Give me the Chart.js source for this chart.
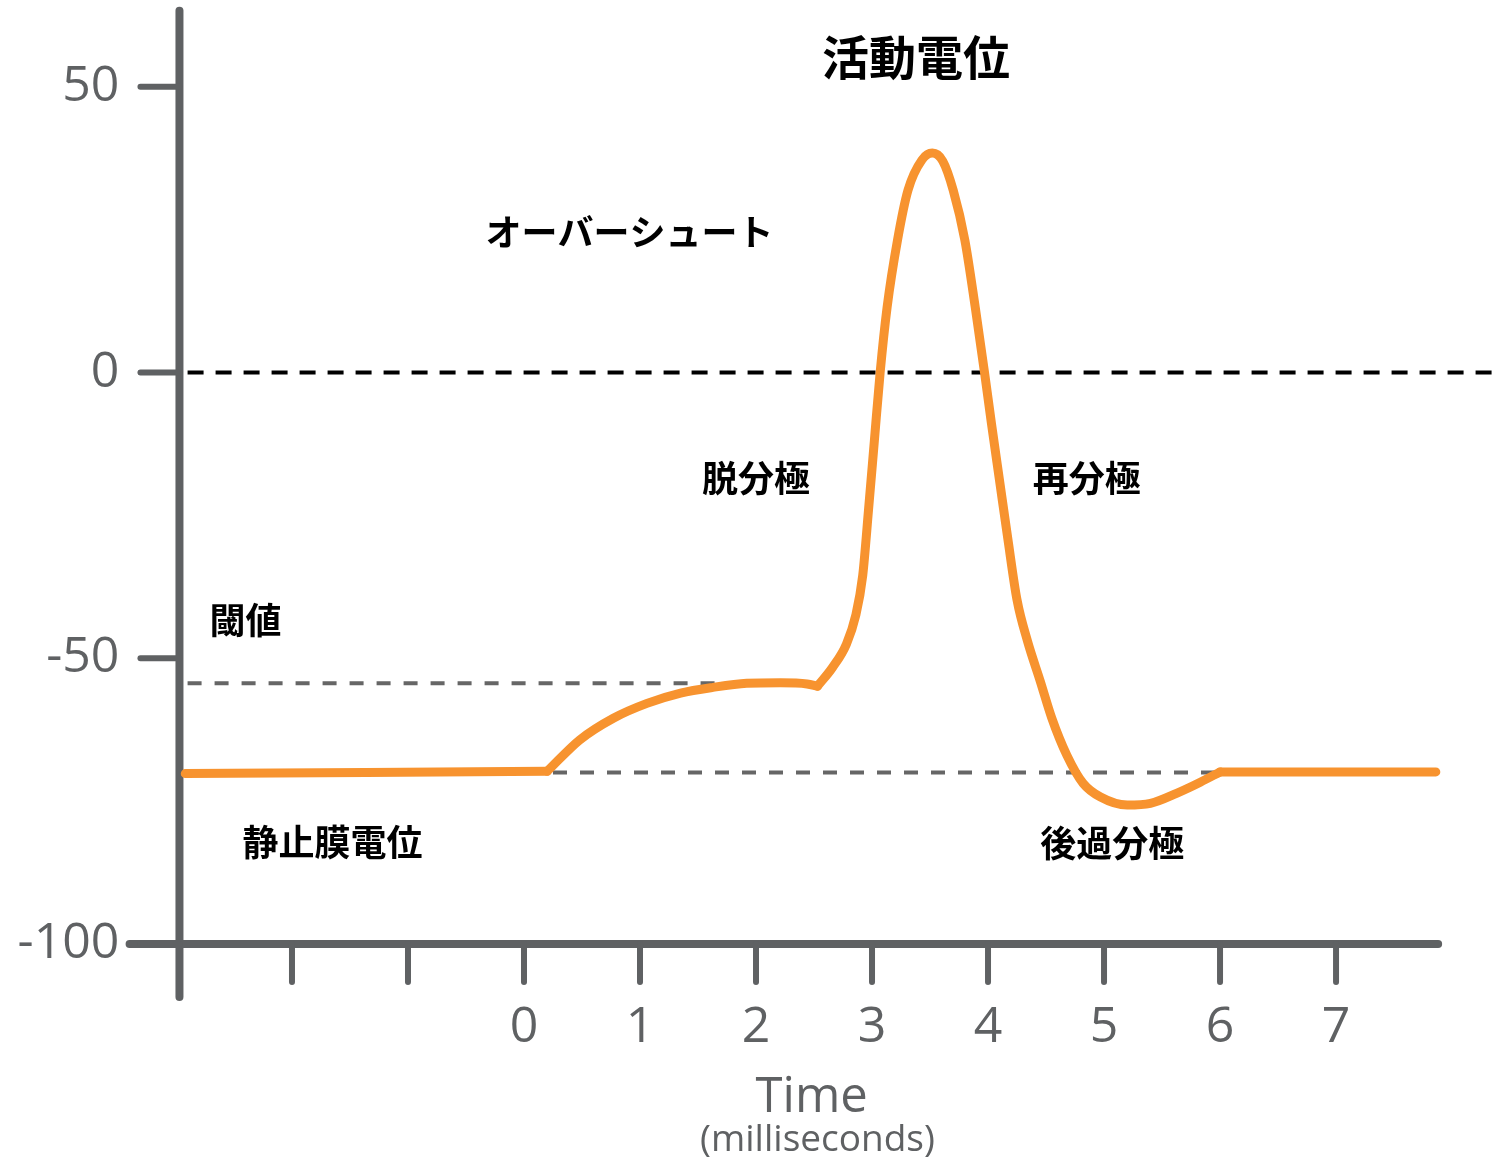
<!DOCTYPE html>
<html>
<head>
<meta charset="utf-8">
<script src="https://cdn.jsdelivr.net/npm/chart.js@4.4.0/dist/chart.umd.min.js"></script>
<style>
  html, body { margin: 0; padding: 0; background: #fff; }
  #wrap { width: 1501px; height: 1165px; position: relative; }
</style>
</head>
<body>
<div id="wrap"><canvas id="chart"></canvas></div>
<script>
// action potential trace (ms, mV), split at the kinks
const restTime = [-2.92, 0.2];
const restMv = [-70.2, -69.8];
const riseTime = [0.2, 0.48, 0.77, 1.06, 1.35, 1.63, 1.92, 2.21, 2.44, 2.53];
const riseMv = [-69.8, -64.3, -60.5, -57.9, -56.1, -55.1, -54.4, -54.3, -54.5, -54.9];
const spikeTime = [2.53, 2.66, 2.78, 2.86, 2.92, 2.97, 3.02, 3.07, 3.13, 3.22, 3.31, 3.43, 3.52,
  3.61, 3.70, 3.80, 3.89, 3.97, 4.03, 4.10, 4.17, 4.25, 4.34, 4.45, 4.55, 4.68, 4.82, 4.97,
  5.20, 5.40, 5.63, 5.83, 6.0];
const spikeMv = [-54.9, -51.6, -47.5, -42.5, -35.5, -24.0, -12.0, 0, 11.4, 23.2, 31.9, 37.2, 38.4,
  37.0, 31.9, 23.2, 11.4, 0, -9.0, -19.0, -29.0, -39.8, -47.0, -54.0, -60.5, -67.0, -71.9, -74.3,
  -75.7, -75.4, -73.6, -71.7, -69.9];
const afterTime = [6.0, 7.86];
const afterMv = [-69.9, -69.9];

// reference lines
const zeroLineMs = [-2.9, 8.35];
const thresholdMv = -54.4;
const thresholdMs = [-2.9, 1.68];
const restingMv = -70;
const restingMs = [0.25, 6.0];

// axes
const xTicks = [-2, -1, 0, 1, 2, 3, 4, 5, 6, 7];
const xTickLabels = ['', '', '0', '1', '2', '3', '4', '5', '6', '7'];
const yTicks = [50, 0, -50, -100];
const yTickLabels = ['50', '0', '-50', '-100'];

// labels on the chart
const notes = [
  {text: '活動電位', x: 3.38, y: 55.2, size: 47},
  {text: 'オーバーシュート', x: 0.91, y: 24.6, size: 36},
  {text: '脱分極', x: 2.0, y: -18.5, size: 36},
  {text: '再分極', x: 4.85, y: -18.5, size: 36},
  {text: '閾値', x: -2.4, y: -43.3, size: 36},
  {text: '静止膜電位', x: -1.65, y: -82.2, size: 36},
  {text: '後過分極', x: 5.07, y: -82.4, size: 36},
];

const AXIS = '#5f6163';
const ORANGE = '#f7932f';

const axesPlugin = {
  id: 'crossAxes',
  beforeDatasetsDraw(chart) {
    const ctx = chart.ctx;
    const xs = chart.scales.x, ys = chart.scales.y;
    const ax = xs.getPixelForValue(-2.97);
    const ay = ys.getPixelForValue(-100);
    ctx.save();
    ctx.strokeStyle = AXIS;
    ctx.lineCap = 'round';
    // y axis
    ctx.lineWidth = 8;
    ctx.beginPath();
    ctx.moveTo(ax, ys.getPixelForValue(63.3));
    ctx.lineTo(ax, ys.getPixelForValue(-109.3));
    ctx.stroke();
    // x axis
    ctx.beginPath();
    ctx.moveTo(xs.getPixelForValue(-3.4), ay);
    ctx.lineTo(xs.getPixelForValue(7.88), ay);
    ctx.stroke();
    // tick marks
    ctx.lineWidth = 6;
    yTicks.forEach(v => {
      const py = ys.getPixelForValue(v);
      ctx.beginPath();
      ctx.moveTo(ax - 39, py);
      ctx.lineTo(ax, py);
      ctx.stroke();
    });
    xTicks.forEach(v => {
      const px = xs.getPixelForValue(v);
      ctx.beginPath();
      ctx.moveTo(px, ay);
      ctx.lineTo(px, ay + 38);
      ctx.stroke();
    });
    // tick labels
    ctx.fillStyle = AXIS;
    ctx.font = '50px "Open Sans", sans-serif';
    ctx.textAlign = 'right';
    ctx.textBaseline = 'middle';
    yTicks.forEach((v, i) => {
      ctx.fillText(yTickLabels[i], ax - 60, ys.getPixelForValue(v));
    });
    ctx.textAlign = 'center';
    xTicks.forEach((v, i) => {
      if (xTickLabels[i]) ctx.fillText(xTickLabels[i], xs.getPixelForValue(v), ay + 84);
    });
    // axis title
    ctx.font = '49px "Open Sans", sans-serif';
    ctx.fillText('Time', xs.getPixelForValue(2.48), ay + 154);
    ctx.font = '37px "Open Sans", sans-serif';
    ctx.fillText('(milliseconds)', xs.getPixelForValue(2.53), ay + 197);
    ctx.restore();
  },
  afterDraw(chart) {
    const ctx = chart.ctx;
    const xs = chart.scales.x, ys = chart.scales.y;
    ctx.save();
    ctx.fillStyle = '#000';
    ctx.textAlign = 'center';
    ctx.textBaseline = 'middle';
    notes.forEach(n => {
      ctx.font = 'bold ' + n.size + 'px "Noto Sans CJK JP", sans-serif';
      ctx.fillText(n.text, xs.getPixelForValue(n.x), ys.getPixelForValue(n.y));
    });
    ctx.restore();
  }
};

const toPoints = (xsArr, ysArr) => xsArr.map((x, i) => ({x: x, y: ysArr[i]}));

const tracePart = (label, t, mv) => ({
  label: label,
  data: toPoints(t, mv),
  borderColor: ORANGE,
  borderWidth: 9,
  borderCapStyle: 'round',
  borderJoinStyle: 'round',
  cubicInterpolationMode: 'monotone',
  pointRadius: 0,
  order: 0
});

const refLine = (label, pts, color, dash) => ({
  label: label,
  data: pts,
  borderColor: color,
  borderWidth: 4,
  borderDash: dash,
  pointRadius: 0,
  order: 1
});

new Chart(document.getElementById('chart'), {
  type: 'line',
  data: {
    datasets: [
      tracePart('resting', restTime, restMv),
      tracePart('rise', riseTime, riseMv),
      tracePart('spike', spikeTime, spikeMv),
      tracePart('after', afterTime, afterMv),
      refLine('zero', zeroLineMs.map(x => ({x: x, y: 0})), '#000', [16, 12]),
      refLine('threshold', thresholdMs.map(x => ({x: x, y: thresholdMv})), '#666', [14, 13]),
      refLine('resting level', restingMs.map(x => ({x: x, y: restingMv})), '#666', [14, 13])
    ]
  },
  options: {
    responsive: true,
    maintainAspectRatio: false,
    animation: false,
    layout: {padding: 0},
    plugins: {legend: {display: false}, tooltip: {enabled: false}, title: {display: false}},
    scales: {
      x: {type: 'linear', display: false, min: -4.517, max: 8.422},
      y: {type: 'linear', display: false, min: -138.7, max: 65.2}
    }
  },
  plugins: [axesPlugin]
});
</script>
</body>
</html>
